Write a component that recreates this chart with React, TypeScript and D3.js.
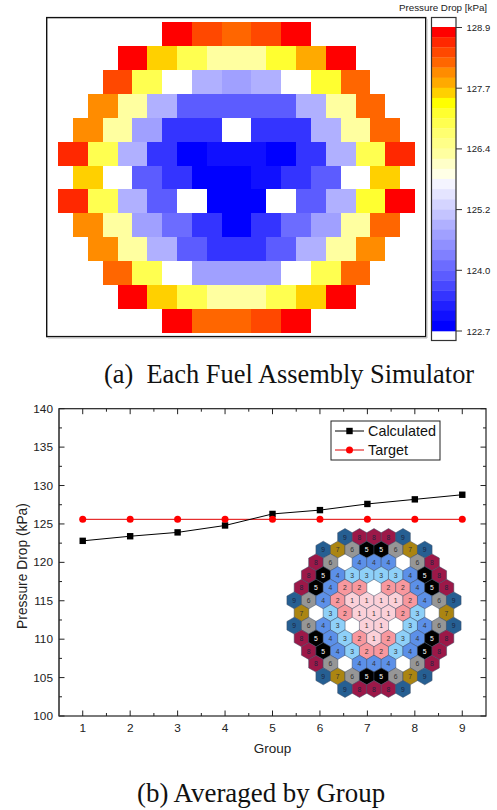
import React from "react";
import * as d3 from "d3";

// Colour levels of the contour legend, top (128.9) to bottom (122.7)
const levels = ["#ff0000","#ff2800","#ff4800","#ff6600","#ff8c00","#ffaa00","#ffd000","#ffff00","#ffff30","#ffff50","#ffff70","#ffff88","#ffffa0","#ffffc8","#ffffe6","#f4f4ff","#e4e4ff","#d4d4ff","#c4c4ff","#b0b0ff","#a0a0ff","#9090ff","#8080ff","#6c6cff","#5c5cff","#4848ff","#3434ff","#2020ff","#1010ff","#0000ff"];
const levelCodes = "ABCDEFGHIJKLMNOPQRSTUVWXYZabcd";
// Each character is one half-assembly column, '.' is an empty or out-of-range position
const heatRows = [
  ".......AACCDDCCAA.......",
  "....AAGGJJMMMMIIFFAA....",
  "...CCJJ..TTUUTT..IIDD...",
  "..EEMMTTYYYYYYYYTTMMDD..",
  ".EEMMUUaaaa..aaaaTTMMDD.",
  "BBJJTTaaddccccddaaTTJJBB",
  ".GG..YYaaddddccaaYY..GG.",
  "BBJJTTYY..dddd..YYTTIIAA",
  ".EEMMUUXXaaddaaXXUUMMDD.",
  "..EEMMTTYYaaaaYYTTMMEE..",
  "...DDJJ..UUUUUU..JJDD...",
  "....AAGGJJMMMMJJGGAA....",
  ".......AADDDDCCAA.......",
];
const legendTicks = ["128.9", "127.7", "126.4", "125.2", "124.0", "122.7"];

const groups = [1, 2, 3, 4, 5, 6, 7, 8, 9];
const calculated = [122.8, 123.4, 123.9, 124.8, 126.3, 126.8, 127.6, 128.2, 128.8];
const target = [125.6, 125.6, 125.6, 125.6, 125.6, 125.6, 125.6, 125.6, 125.6];

// Hexagonal core map: group number of each assembly, 0 = unassigned
const coreRows = [
  [9, 8, 8, 8, 9],
  [9, 7, 6, 5, 5, 6, 7, 9],
  [8, 6, 0, 4, 4, 4, 0, 6, 8],
  [8, 5, 4, 3, 3, 3, 3, 4, 5, 8],
  [8, 5, 4, 2, 2, 0, 2, 2, 4, 5, 8],
  [9, 6, 4, 2, 1, 1, 1, 1, 2, 4, 6, 9],
  [7, 0, 3, 2, 1, 1, 1, 2, 3, 0, 7],
  [9, 6, 4, 3, 0, 1, 1, 0, 3, 4, 6, 9],
  [8, 5, 4, 3, 2, 1, 2, 3, 4, 5, 8],
  [8, 5, 4, 3, 2, 2, 3, 4, 5, 8],
  [8, 6, 0, 4, 4, 4, 0, 6, 8],
  [9, 7, 6, 5, 5, 6, 7, 9],
  [9, 8, 8, 8, 9],
];
const groupColors = ["#ffffff", "#fbd0d8", "#f8989e", "#8ed0f8", "#5c90e8", "#000000", "#969696", "#ab8512", "#9c1848", "#265f92"];

const SANS = "'Liberation Sans', Arial, sans-serif";
const SERIF = "'Liberation Serif', 'Times New Roman', serif";

function Heatmap() {
  const x = d3.scaleLinear().domain([0, 24]).range([58, 415]);
  const y = d3.scaleLinear().domain([0, 13]).range([22, 333]);
  const color = d3.scaleOrdinal<string, string>().domain(levelCodes.split("")).range(levels);
  const cells: React.ReactElement[] = [];
  heatRows.forEach((row, r) => {
    let i = 0;
    while (i < row.length) {
      const c = row[i];
      let j = i;
      while (j < row.length && row[j] === c) j++;
      if (c !== ".") {
        cells.push(
          <rect key={`${r}-${i}`} x={Math.round(x(i))} y={Math.round(y(r))} width={Math.round(x(j)) - Math.round(x(i))} height={Math.round(y(r + 1)) - Math.round(y(r))} fill={color(c)} />
        );
      }
      i = j;
    }
  });
  const band = d3.scaleBand<number>().domain(d3.range(levels.length)).range([27, 331]);
  const tickY = d3.scaleLinear().domain([0, 5]).range([27.5, 331]);
  return (
    <g>
      {cells}
      <rect x={46.7} y={17.6} width={379} height={319} fill="none" stroke="#111" strokeWidth={1.4} />
      <path d="M48 338 H427 V19" fill="none" stroke="#bbb" strokeWidth={1} />
      {levels.map((c, i) => (
        <rect key={c} x={431.5} y={band(i)} width={24.5} height={band.bandwidth() + 0.3} fill={c} />
      ))}
      <rect x={431.5} y={17.5} width={24.5} height={323} fill="none" stroke="#333" strokeWidth={1.2} />
      {legendTicks.map((t, i) => (
        <g key={t}>
          <line x1={456} x2={462} y1={tickY(i)} y2={tickY(i)} stroke="#333" strokeWidth={1} />
          <text x={466.5} y={tickY(i) + 3.5} fontFamily={SANS} fontSize={9.5} fill="#222">{t}</text>
        </g>
      ))}
      <text x={443} y={11} textAnchor="middle" fontFamily={SANS} fontSize={9.8} fill="#222">Pressure Drop [kPa]</text>
    </g>
  );
}

function LineChart() {
  const x = d3.scaleLinear().domain([0.5, 9.5]).range([59, 486]);
  const y = d3.scaleLinear().domain([100, 140]).range([716, 408.7]);
  const line = d3.line<number>().x((_, i) => x(groups[i])).y((d) => y(d));
  const yMajor = y.ticks(8);
  const yMinor = d3.range(102.5, 140, 5);
  const xMinor = d3.range(1.5, 9, 1);
  const [L, R] = x.range();
  const [B, T] = y.range();
  const ink = "#222";
  // hexagon inset: positions counted in assemblies from the centre column
  const hx = d3.scaleLinear().domain([-1, 1]).range([374 - 14.5, 374 + 14.5]);
  const hy = d3.scaleLinear().domain([0, 12]).range([537, 689]);
  const hexR = 8.45;
  const hexPath = (d3.line() as any)(d3.range(6).map((k) => {
    const a = (Math.PI / 3) * k + Math.PI / 6;
    return [hexR * Math.cos(a), hexR * Math.sin(a)];
  })) + "Z";
  const hexes = coreRows.flatMap((row, r) =>
    row.map((g, i) => ({ g, r, cx: hx(i - (row.length - 1) / 2), cy: hy(r) }))
  );
  const ordered = [...hexes].sort((a, b) => (a.g === 0 ? 0 : 1) - (b.g === 0 ? 0 : 1));
  return (
    <g>
      <rect x={L} y={T} width={R - L} height={B - T} fill="none" stroke={ink} strokeWidth={1.2} />
      <line x1={L} x2={L} y1={T} y2={B} stroke="#555" strokeWidth={1.6} />
      {yMajor.map((v) => (
        <g key={v}>
          <line x1={L} x2={L + 5.5} y1={y(v)} y2={y(v)} stroke={ink} />
          <line x1={R} x2={R - 5.5} y1={y(v)} y2={y(v)} stroke={ink} />
          <text x={53} y={y(v) + 4} textAnchor="end" fontFamily={SANS} fontSize={11.8} fill="#222">{v}</text>
        </g>
      ))}
      {yMinor.map((v) => (
        <g key={v}>
          <line x1={L} x2={L + 3} y1={y(v)} y2={y(v)} stroke={ink} />
          <line x1={R} x2={R - 3} y1={y(v)} y2={y(v)} stroke={ink} />
        </g>
      ))}
      {groups.map((v) => (
        <g key={v}>
          <line x1={x(v)} x2={x(v)} y1={B} y2={B - 5.5} stroke={ink} />
          <line x1={x(v)} x2={x(v)} y1={T} y2={T + 5.5} stroke={ink} />
          <text x={x(v)} y={732} textAnchor="middle" fontFamily={SANS} fontSize={11.8} fill="#222">{v}</text>
        </g>
      ))}
      {xMinor.map((v) => (
        <g key={v}>
          <line x1={x(v)} x2={x(v)} y1={B} y2={B - 3} stroke={ink} />
          <line x1={x(v)} x2={x(v)} y1={T} y2={T + 3} stroke={ink} />
        </g>
      ))}
      <text x={x(5)} y={753} textAnchor="middle" fontFamily={SANS} fontSize={13.5} fill="#222">Group</text>
      <text transform="translate(27,566) rotate(-90)" textAnchor="middle" fontFamily={SANS} fontSize={13.8} fill="#222">Pressure Drop (kPa)</text>

      <path d={line(target) as string} fill="none" stroke="#e00000" strokeWidth={1} />
      <path d={line(calculated) as string} fill="none" stroke="#000" strokeWidth={1} />
      {calculated.map((v, i) => (
        <rect key={i} x={x(groups[i]) - 3.2} y={y(v) - 3.2} width={6.4} height={6.4} fill="#000" />
      ))}
      {target.map((v, i) => (
        <circle key={i} cx={x(groups[i])} cy={y(v)} r={3.5} fill="#ff0000" />
      ))}

      <rect x={331} y={421} width={109} height={39} fill="#fff" stroke="#222" strokeWidth={1} />
      <line x1={335} x2={364} y1={431} y2={431} stroke="#000" />
      <rect x={346.3} y={427.8} width={6.4} height={6.4} fill="#000" />
      <text x={368} y={436} fontFamily={SANS} fontSize={14.4} fill="#111">Calculated</text>
      <line x1={335} x2={364} y1={450} y2={450} stroke="#e00000" />
      <circle cx={349.5} cy={450} r={3.5} fill="#ff0000" />
      <text x={368} y={455} fontFamily={SANS} fontSize={14.4} fill="#111">Target</text>

      {ordered.map(({ g, r, cx, cy }) => (
        <g key={`${r}-${cx}`} transform={`translate(${cx},${cy})`}>
          <path d={hexPath} fill={groupColors[g]} stroke={g === 0 ? "#ffffff" : "#3c4c64"} strokeWidth={0.6} strokeOpacity={0.85} />
          {g > 0 && (
            <text y={2.5} textAnchor="middle" fontFamily={SANS} fontSize={6.8} fill={g === 5 ? "#fff" : g >= 8 ? "#1c2440" : "#333"}>{g}</text>
          )}
        </g>
      ))}
    </g>
  );
}

export default function App() {
  return (
    <svg width={497} height={810} viewBox="0 0 497 810" style={{ position: "absolute", left: 0, top: 0, background: "#fff" }}>
      <Heatmap />
      <text x={104} y={383} fontFamily={SERIF} fontSize={26.4} fill="#111" style={{ whiteSpace: "pre" }}>(a)  Each Fuel Assembly Simulator</text>
      <LineChart />
      <text x={137} y={802} fontFamily={SERIF} fontSize={26.9} fill="#111" style={{ whiteSpace: "pre" }}>(b) Averaged by Group</text>
    </svg>
  );
}
